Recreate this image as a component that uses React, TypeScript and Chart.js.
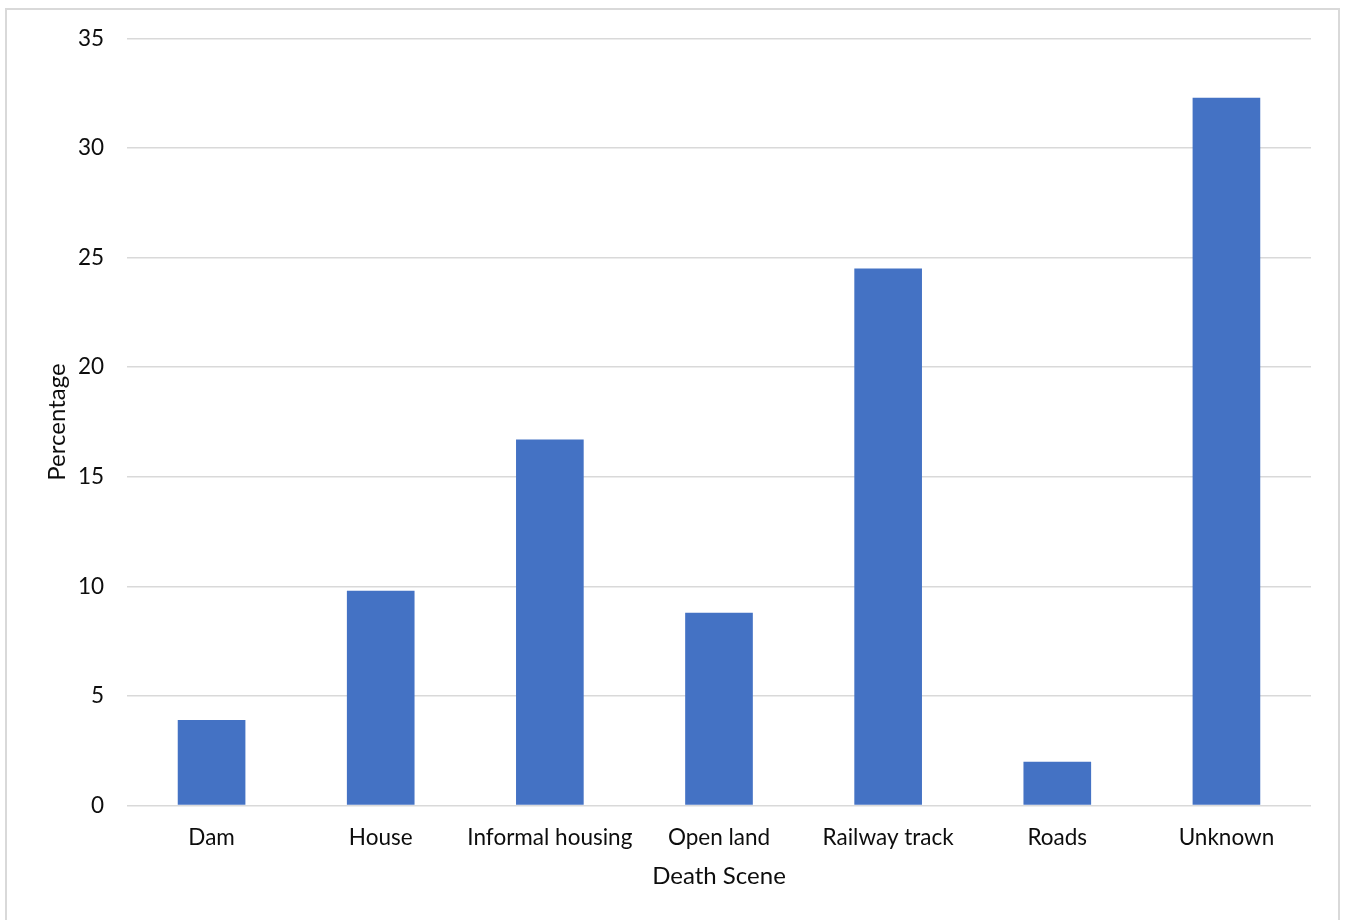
import React, { useEffect, useRef } from "react";
import { Chart, registerables } from "chart.js";

Chart.register(...registerables);

const categories = ["Dam", "House", "Informal housing", "Open land", "Railway track", "Roads", "Unknown"];
const percentages = [3.9, 9.8, 16.7, 8.8, 24.5, 2.0, 32.3];
const yMin = 0;
const yMax = 35;
const yStep = 5;
const xTitle = "Death Scene";
const yTitle = "Percentage";

const FONT = "Lato, 'Open Sans', sans-serif";
const TEXT = "#0d0d0d";

const borderPlugin = {
  id: "outerBorder",
  beforeDraw(chart: any) {
    const ctx = chart.ctx;
    ctx.save();
    ctx.fillStyle = "#ffffff";
    ctx.fillRect(0, 0, chart.width, chart.height);
    ctx.strokeStyle = "#d9d9d9";
    ctx.lineWidth = 2;
    ctx.strokeRect(6, 9, 1333, 1000);
    ctx.restore();
  },
};

export default function App() {
  const ref = useRef<HTMLCanvasElement | null>(null);

  useEffect(() => {
    if (!ref.current) return;
    const chart = new Chart(ref.current, {
      type: "bar",
      data: {
        labels: categories,
        datasets: [
          {
            label: yTitle,
            data: percentages,
            backgroundColor: "#4472C4",
            borderWidth: 0,
            barPercentage: 0.4,
            categoryPercentage: 1.0,
          },
        ],
      },
      options: {
        animation: false,
        responsive: false,
        maintainAspectRatio: false,
        layout: { padding: { left: 0, top: 38.5, right: 35, bottom: 0 } },
        plugins: {
          legend: { display: false },
          tooltip: { enabled: false },
        },
        scales: {
          x: {
            grid: { display: false, drawTicks: false },
            border: { display: false },
            ticks: {
              color: TEXT,
              font: { family: FONT, size: 22.5 },
              padding: 19,
              maxRotation: 0,
              autoSkip: false,
            },
            title: {
              display: true,
              text: xTitle,
              color: TEXT,
              font: { family: FONT, size: 24 },
              padding: { top: 0, bottom: 29 },
            },
            afterFit(scale: any) {
              scale.height = 114.5;
            },
          },
          y: {
            min: yMin,
            max: yMax,
            grid: { color: "#d9d9d9", lineWidth: 1.5, drawTicks: false },
            border: { display: false },
            ticks: {
              stepSize: yStep,
              color: TEXT,
              font: { family: FONT, size: 22.5 },
              padding: 23,
            },
            title: {
              display: true,
              text: yTitle,
              color: TEXT,
              font: { family: FONT, size: 24 },
              padding: { top: 43, bottom: 0 },
            },
            afterFit(scale: any) {
              scale.width = 127;
            },
          },
        },
      },
      plugins: [borderPlugin],
    });
    return () => chart.destroy();
  }, []);

  return (
    <div style={{ position: "absolute", left: 0, top: 0, width: 1346, height: 920, overflow: "hidden" }}>
      <canvas ref={ref} width={1346} height={920} style={{ display: "block", width: 1346, height: 920 }} />
    </div>
  );
}
